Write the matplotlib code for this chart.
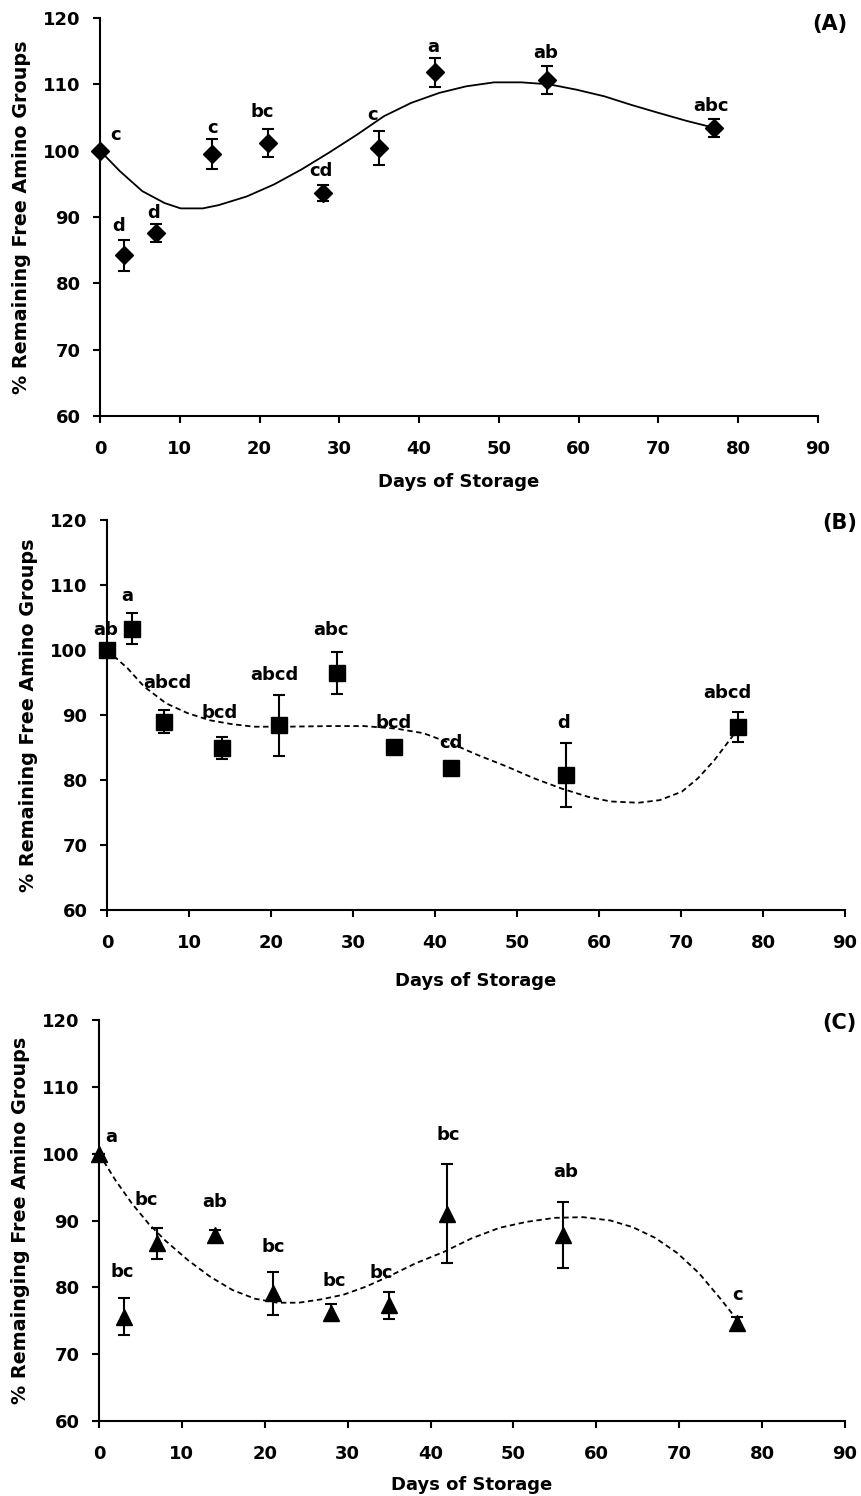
import matplotlib
matplotlib.use("Agg")
import matplotlib.pyplot as plt

plt.rcParams['font.family'] = ['DejaVu Sans']
plt.rcParams['font.weight'] = 'bold'

# ---------------- Panel A ----------------
days_a = [0, 3, 7, 14, 21, 28, 35, 42, 56, 77]
vals_a = [100, 84.2, 87.6, 99.5, 101.1, 93.6, 100.4, 111.8, 110.6, 103.4]
err_a = [0, 2.3, 1.4, 2.3, 2.1, 1.2, 2.6, 2.2, 2.1, 1.3]
labels_a = ["c", "d", "d", "c", "bc", "cd", "c", "a", "ab", "abc"]
label_x_a = [1.9, 2.3, 6.7, 14.1, 20.3, 27.7, 34.2, 41.8, 55.9, 76.6]
label_y_a = [102.4, 88.6, 90.6, 103.4, 105.9, 96.9, 105.4, 115.7, 114.7, 106.7]
curve_x_a = [0, 2.5, 5.3, 8.1, 10.1, 12.9, 14.9, 18.4, 21.8, 25.3, 28.7, 32.2,
             35.6, 39.0, 42.5, 45.9, 49.4, 52.8, 56.3, 59.7, 63.2, 66.6, 70.0,
             73.5, 76.8]
curve_y_a = [100, 96.9, 93.9, 92.1, 91.3, 91.3, 91.8, 93.1, 94.9, 97.2, 99.7,
             102.4, 105.2, 107.2, 108.7, 109.7, 110.3, 110.3, 110.0, 109.2,
             108.2, 106.9, 105.7, 104.5, 103.5]

# ---------------- Panel B ----------------
days_b = [0, 3, 7, 14, 21, 28, 35, 42, 56, 77]
vals_b = [100, 103.3, 89.0, 84.9, 88.4, 96.5, 85.1, 81.9, 80.8, 88.1]
err_b = [0, 2.4, 1.7, 1.7, 4.7, 3.2, 0.4, 0.4, 4.9, 2.3]
labels_b = ["ab", "a", "abcd", "bcd", "abcd", "abc", "bcd", "cd", "d", "abcd"]
label_x_b = [-0.2, 2.5, 7.4, 13.7, 20.4, 27.3, 35.0, 41.9, 55.7, 75.6]
label_y_b = [103.1, 108.3, 94.9, 90.3, 96.2, 103.1, 88.8, 85.7, 88.8, 93.4]
curve_x_b = [0, 2.5, 4.5, 7.2, 9.8, 12.5, 15.2, 17.9, 21.9, 27.3, 31.3, 35.3,
             38.6, 42.0, 45.3, 48.7, 52.0, 55.4, 58.7, 61.4, 64.8, 67.4, 70.1,
             72.1, 74.1, 76.2, 77.0]
curve_y_b = [100, 97.2, 94.4, 91.8, 90.3, 89.2, 88.6, 88.2, 88.2, 88.3, 88.3,
             87.9, 87.2, 85.6, 83.8, 82.1, 80.3, 78.7, 77.4, 76.7, 76.5, 76.9,
             78.2, 80.3, 83.1, 86.6, 88.0]

# ---------------- Panel C ----------------
days_c = [0, 3, 7, 14, 21, 28, 35, 42, 56, 77]
vals_c = [100, 75.6, 86.6, 87.8, 79.1, 76.2, 77.3, 91.0, 87.8, 74.6]
err_c = [0, 2.8, 2.3, 0.8, 3.2, 1.3, 2.0, 7.4, 4.9, 0.9]
labels_c = ["a", "bc", "bc", "ab", "bc", "bc", "bc", "bc", "ab", "c"]
label_x_c = [1.5, 2.8, 5.7, 13.95, 21.0, 28.4, 34.1, 42.1, 56.3, 77.0]
label_y_c = [102.5, 82.3, 93.0, 92.8, 86.0, 81.0, 82.1, 102.8, 97.3, 78.8]
curve_x_c = [0, 2.0, 4.0, 6.0, 8.0, 10.7, 13.4, 16.1, 18.8, 21.5, 24.1, 26.8,
             29.5, 32.2, 34.9, 38.2, 41.6, 44.9, 48.3, 51.6, 55.0, 58.4, 61.7,
             64.4, 67.1, 69.8, 72.4, 75.1, 77.0]
curve_y_c = [100, 96.0, 92.5, 89.5, 87.0, 84.1, 81.6, 79.6, 78.3, 77.7, 77.7,
             78.2, 78.9, 80.1, 81.6, 83.6, 85.3, 87.3, 88.9, 89.8, 90.4, 90.5,
             90.0, 89.0, 87.4, 85.1, 82.1, 78.1, 75.1]

x_ticks = [0, 10, 20, 30, 40, 50, 60, 70, 80, 90]
y_ticks = [60, 70, 80, 90, 100, 110, 120]
xlabel = "Days of Storage"
ylabel_ab = "% Remaining Free Amino Groups"
ylabel_c = "% Remainging Free Amino Groups"

W, H = 861, 1496
fig = plt.figure(figsize=(W / 100, H / 100), dpi=100)


def add_axes_px(left, right, top, bottom):
    return fig.add_axes([left / W, 1 - bottom / H, (right - left) / W, (bottom - top) / H])


def style(ax, ylabel, ylab_x, xlabelpad):
    ax.set_xlim(0, 90)
    ax.set_ylim(60, 120)
    ax.set_xticks(x_ticks)
    ax.set_yticks(y_ticks)
    for s in ("top", "right"):
        ax.spines[s].set_visible(False)
    for s in ("left", "bottom"):
        ax.spines[s].set_linewidth(1.5)
    ax.tick_params(direction="out", length=5, width=1.5, labelsize=13)
    ax.tick_params(axis="x", pad=12)
    ax.tick_params(axis="y", pad=9)
    for t in ax.get_xticklabels() + ax.get_yticklabels():
        t.set_fontweight("bold")
    ax.set_xlabel(xlabel, fontsize=13, fontweight="bold", labelpad=xlabelpad)
    ax.set_ylabel(ylabel, fontsize=13.8, fontweight="bold")
    ax.yaxis.set_label_coords(ylab_x, 0.5)


def panel(ax, days, vals, errs, marker, ms, cx, cy, ls, labs, lx, ly, tag, tagpos):
    ax.plot(cx, cy, color="black", lw=1.3, linestyle=ls, clip_on=False, zorder=2)
    ax.errorbar(days, vals, yerr=errs, fmt=marker, color="black", ms=ms,
                ecolor="black", elinewidth=1.5, capsize=4, capthick=1.5,
                clip_on=False, zorder=3)
    for t, x, y in zip(labs, lx, ly):
        ax.text(x, y, t, ha="center", va="center", fontsize=13, fontweight="bold")
    ax.text(tagpos[0], tagpos[1], tag, transform=ax.transAxes, ha="center",
            va="center", fontsize=15, fontweight="bold")


axA = add_axes_px(100, 818, 18, 416)
panel(axA, days_a, vals_a, err_a, "D", 9, curve_x_a, curve_y_a, "-",
      labels_a, label_x_a, label_y_a, "(A)", (1.017, 0.985))
style(axA, ylabel_ab, -0.096, 11)

axB = add_axes_px(107, 845, 520, 910)
panel(axB, days_b, vals_b, err_b, "s", 12, curve_x_b, curve_y_b, (0, (3, 2)),
      labels_b, label_x_b, label_y_b, "(B)", (0.993, 0.992))
style(axB, ylabel_ab, -0.094, 15)

axC = add_axes_px(99, 845, 1020, 1421)
panel(axC, days_c, vals_c, err_c, "^", 11, curve_x_c, curve_y_c, (0, (3, 2)),
      labels_c, label_x_c, label_y_c, "(C)", (0.993, 0.9925))
style(axC, ylabel_c, -0.093, 10)

fig.savefig("out.png", dpi=100)
